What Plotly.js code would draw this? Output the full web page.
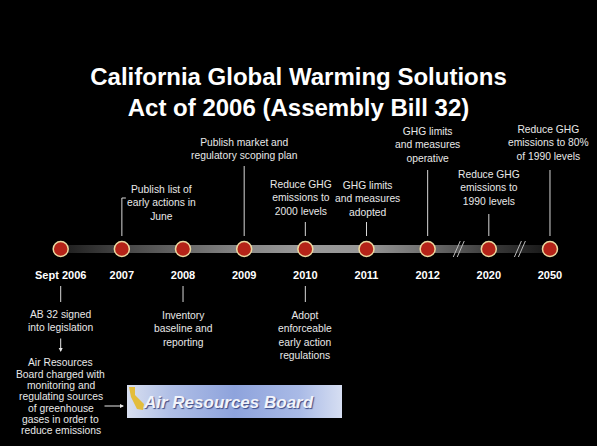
<!DOCTYPE html>
<html><head><meta charset="utf-8">
<script src="https://cdn.plot.ly/plotly-3.0.1.min.js"></script>
<style>html,body{margin:0;padding:0;background:#000;}#chart{width:597px;height:446px;}</style>
</head><body><div id="chart"></div>
<script>
// ---------- data ----------
const titleText = 'California Global Warming Solutions<br>Act of 2006 (Assembly Bill 32)';
const years = ['Sept 2006','2007','2008','2009','2010','2011','2012','2020','2050'];
const aboveNotes = ['', 'Publish list of<br>early actions in<br>June', '', 'Publish market and<br>regulatory scoping plan',
  'Reduce GHG<br>emissions to<br>2000 levels', 'GHG limits<br>and measures<br>adopted', 'GHG limits<br>and measures<br>operative',
  'Reduce GHG<br>emissions to<br>1990 levels', 'Reduce GHG<br>emissions to 80%<br>of 1990 levels'];
const belowNotes = ['AB 32 signed<br>into legislation', '', 'Inventory<br>baseline and<br>reporting', '',
  'Adopt<br>enforceable<br>early action<br>regulations', '', '', '', ''];
const arbLines = ['Air Resources','Board charged with','monitoring and','regulating sources','of greenhouse','gases in order to','reduce emissions'];
const logoText = 'Air Resources Board';
const breakAfter = [6, 7]; // scale breaks: 2012–2020 and 2020–2050

// ---------- layout (pixel positions) ----------
const W = 597, H = 446, X0 = 60.7, DX = 61.16, LINE_Y = 249;
const aboveTextY  = [null, 202.5, null, 148.5, 198, 198.5, 144.5, 188, 143];
const aboveTextDx = [0, 40, 0, 0, -4, 1, 0, 0, -1];
const aboveLineTop = [null, 198, null, 166, 222, 222, 170, 214, 170];
const belowTextY  = [320.5, null, 329, null, 335, null, null, null, null];
const xi = px => (px - X0) / DX;          // pixel -> axis index
const ip = i => X0 + DX * i;              // axis index -> pixel
const FONT = 'Liberation Sans, Arial, sans-serif';
const TXT = '#e8e8e8';
const NOTE_SIZE = 10.3;
const n = years.length;
const idx = years.map((_, i) => i);

const traces = [];
// timeline bar
traces.push({
  x: [0, n - 1, n - 1, 0, 0], y: [LINE_Y - 4, LINE_Y - 4, LINE_Y + 4, LINE_Y + 4, LINE_Y - 4],
  mode: 'lines', fill: 'toself', line: {width: 0, color: 'rgba(0,0,0,0)'},
  fillgradient: {type: 'horizontal', colorscale: [[0,'#1c1c1c'],[0.125,'#454545'],[0.25,'#676767'],[0.375,'#878787'],
    [0.5,'#999999'],[0.625,'#969696'],[0.75,'#6e6e6e'],[0.875,'#3c3c3c'],[1,'#161616']]},
  hoverinfo: 'skip', showlegend: false
});
// logo box
const LX0 = 127, LX1 = 342, LY0 = 385, LY1 = 418;
traces.push({
  x: [xi(LX0), xi(LX1), xi(LX1), xi(LX0), xi(LX0)], y: [LY0, LY0, LY1, LY1, LY0],
  mode: 'lines', fill: 'toself', line: {width: 0, color: 'rgba(0,0,0,0)'},
  fillgradient: {type: 'horizontal', colorscale: [[0,'#d8dff0'],[0.2,'#b0bfe6'],[0.5,'#8ea3dc'],[0.8,'#a9bae6'],[1,'#d6def2']]},
  hoverinfo: 'skip', showlegend: false
});
// markers
traces.push({
  x: idx, y: idx.map(() => LINE_Y), mode: 'markers',
  marker: {size: 15, color: '#b42318', line: {color: '#ecd9a0', width: 1.5}},
  hoverinfo: 'skip', showlegend: false
});
// year labels
traces.push({
  x: idx, y: idx.map(() => 276), mode: 'text', text: years, textposition: 'middle center',
  textfont: {family: FONT, size: 11, color: '#ffffff', weight: 'bold'},
  hoverinfo: 'skip', showlegend: false
});

const shapes = [];
const annotations = [];
const lineStyle = {color: '#d8d8d8', width: 1};
// connectors above
idx.forEach(i => {
  if (aboveLineTop[i] == null) return;
  if (i === 1) {
    shapes.push({type: 'path', xref: 'x', yref: 'y',
      path: `M${i},236 L${i},${aboveLineTop[i]} L${xi(ip(i) + 4)},${aboveLineTop[i]}`, line: lineStyle});
  } else {
    shapes.push({type: 'line', xref: 'x', yref: 'y', x0: i, x1: i, y0: aboveLineTop[i], y1: 236, line: lineStyle});
  }
  annotations.push({xref: 'x', yref: 'y', x: xi(ip(i) + aboveTextDx[i]), y: aboveTextY[i], text: aboveNotes[i],
    showarrow: false, xanchor: 'center', yanchor: 'middle', align: 'center', font: {family: FONT, size: NOTE_SIZE, color: TXT}});
});
// connectors below
idx.forEach(i => {
  if (belowTextY[i] == null) return;
  shapes.push({type: 'line', xref: 'x', yref: 'y', x0: i, x1: i, y0: 286, y1: 302, line: lineStyle});
  annotations.push({xref: 'x', yref: 'y', x: i, y: belowTextY[i], text: belowNotes[i],
    showarrow: false, xanchor: 'center', yanchor: 'middle', align: 'center', font: {family: FONT, size: NOTE_SIZE, color: TXT}});
});
// scale breaks
breakAfter.forEach(b => {
  const c = ip(b + 0.5) + 1;
  [-2, 2].forEach(o => shapes.push({type: 'line', xref: 'x', yref: 'y',
    x0: xi(c + o - 4), y0: 257, x1: xi(c + o + 3), y1: 241, line: {color: '#bdbdbd', width: 1}}));
});
// ARB paragraph
arbLines.forEach((t, k) => annotations.push({xref: 'x', yref: 'y', x: 0, y: 362.7 + 11.35 * k, text: t,
  showarrow: false, xanchor: 'center', yanchor: 'middle', font: {family: FONT, size: NOTE_SIZE, color: TXT}}));
// arrows
annotations.push({xref: 'x', yref: 'y', x: 0, y: 352, ax: 0, ay: -15, text: '', showarrow: true,
  arrowhead: 2, arrowsize: 0.8, arrowwidth: 1, arrowcolor: '#e8e8e8'});
annotations.push({xref: 'x', yref: 'y', x: xi(124), y: 406, ax: -21, ay: 0, text: '', showarrow: true,
  arrowhead: 2, arrowsize: 0.8, arrowwidth: 1, arrowcolor: '#e8e8e8'});
// logo text + state silhouette
annotations.push({xref: 'x', yref: 'y', x: xi(228), y: 402, text: '<i><b>' + logoText + '</b></i>', showarrow: false,
  xanchor: 'center', yanchor: 'middle', font: {family: FONT, size: 17, color: '#f2f4fb', shadow: '1px 1px 1px #3b4a86'}});
const cal = [[129,387],[135,387],[135,395],[144,404],[143,410],[137,409],[131,397]];
shapes.push({type: 'path', xref: 'x', yref: 'y', fillcolor: '#e3bd3c', line: {width: 0},
  path: 'M' + cal.map(p => xi(p[0]) + ',' + p[1]).join(' L') + ' Z'});

const layout = {
  width: W, height: H, margin: {l: 0, r: 0, t: 0, b: 0},
  paper_bgcolor: '#000', plot_bgcolor: '#000', showlegend: false, hovermode: false,
  title: {text: titleText, font: {family: FONT, size: 24, color: '#ffffff', weight: 'bold'},
    x: 0.5, xanchor: 'center', xref: 'paper', y: 1 - 84.5 / H, yanchor: 'middle', yref: 'container'},
  xaxis: {range: [xi(0), xi(W)], visible: false, fixedrange: true},
  yaxis: {range: [H, 0], visible: false, fixedrange: true},
  shapes, annotations
};
Plotly.newPlot('chart', traces, layout, {staticPlot: true, displayModeBar: false});
</script></body></html>
